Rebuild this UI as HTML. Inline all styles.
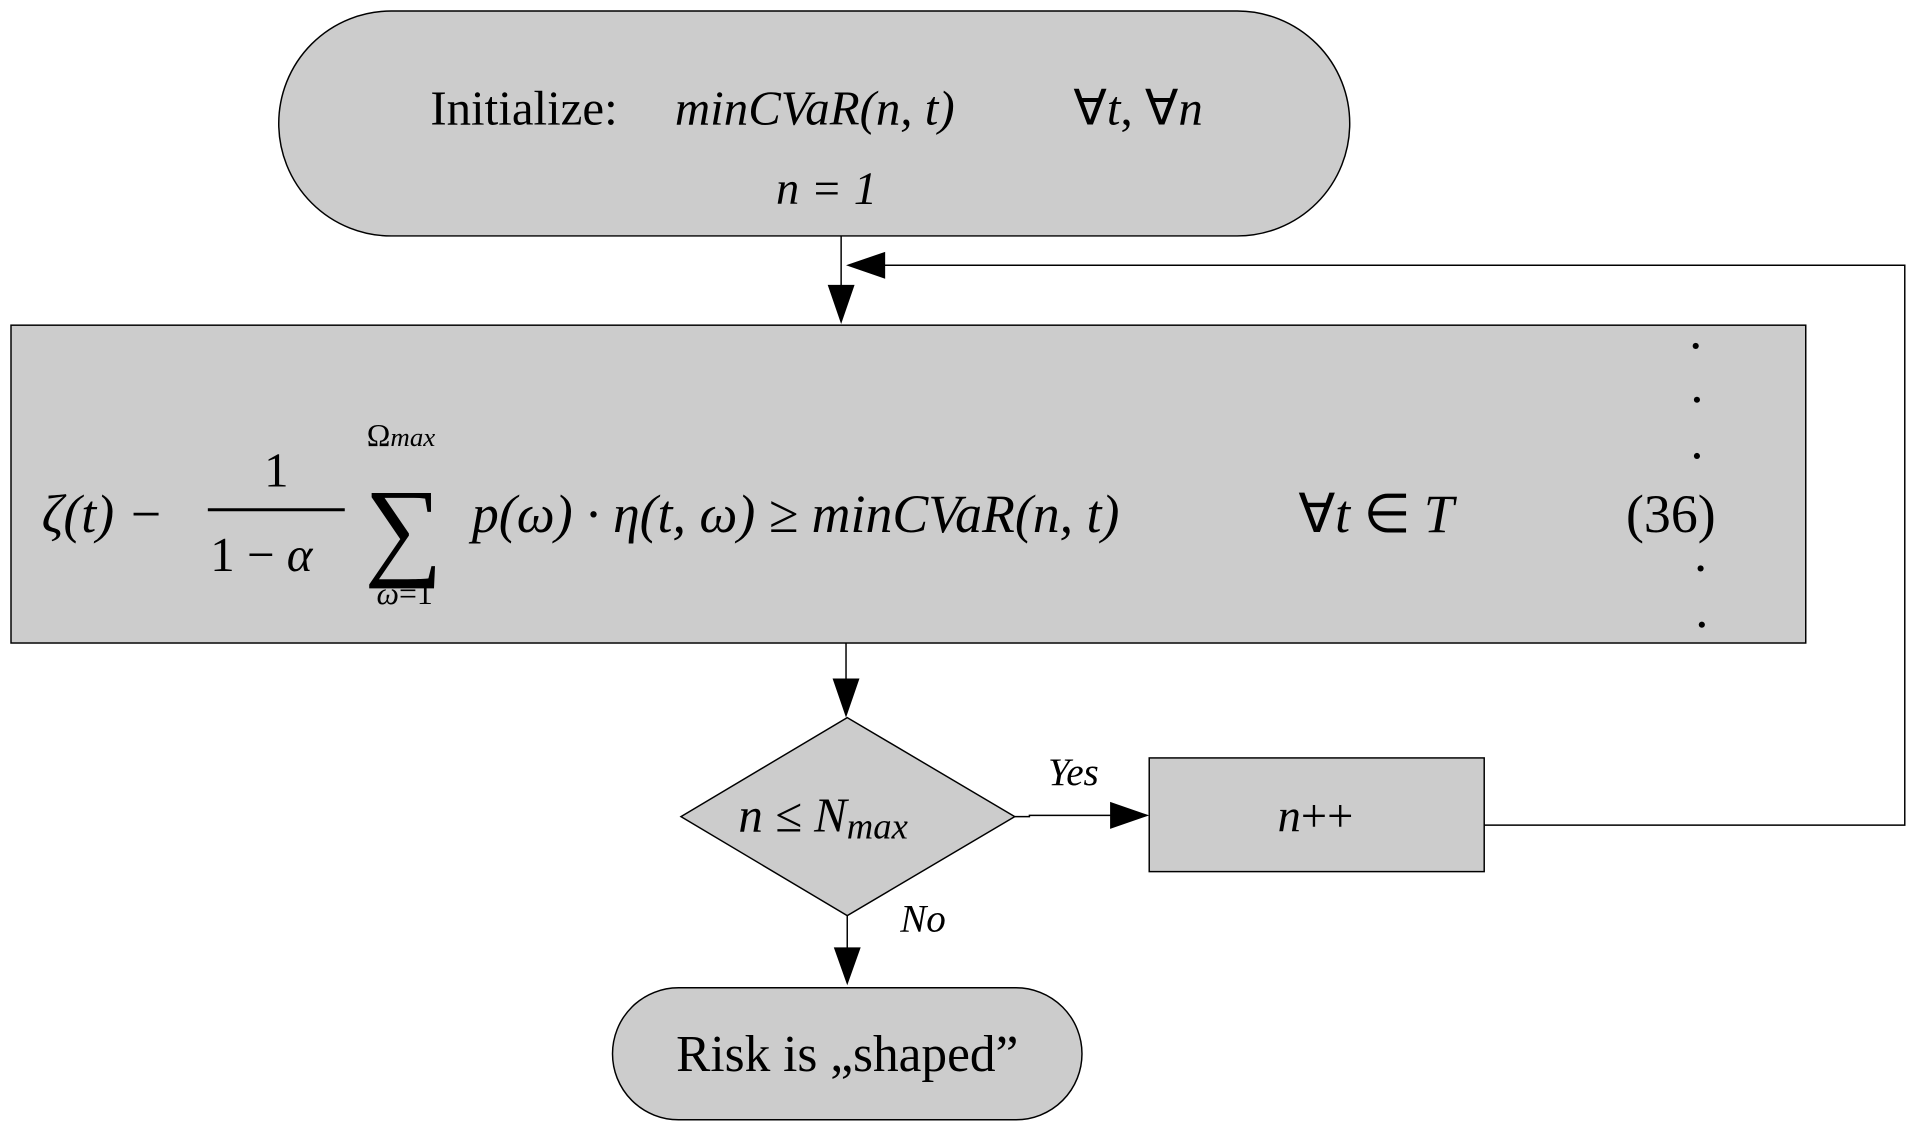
<!DOCTYPE html>
<html><head><meta charset="utf-8"><style>html,body{margin:0;padding:0;background:#fff}svg{display:block}</style></head>
<body>
<svg width="1917" height="1132" viewBox="0 0 1568 926" preserveAspectRatio="none" xmlns="http://www.w3.org/2000/svg" font-family="Liberation Serif, serif">
<rect x="0" y="0" width="1568" height="926" fill="#fff"/>
<rect x="228" y="9" width="876" height="184" rx="92" ry="92" fill="#cccccc" stroke="#000" stroke-width="1.2"/>
<text x="352" y="102" font-size="40">Initialize:</text>
<text x="552" y="102" font-size="40" font-style="italic">minCVaR(n, t)</text>
<text x="878" y="102" font-size="40">∀<tspan font-style="italic">t</tspan>, ∀<tspan font-style="italic">n</tspan></text>
<text x="676" y="167" font-size="38" font-style="italic" text-anchor="middle">n = 1</text>
<line x1="688" y1="193" x2="688" y2="234" stroke="#000" stroke-width="1.2"/>
<polygon points="677,233 699,233 688,265" fill="#000"/>
<polyline points="1214,675 1558,675 1558,217 722,217" fill="none" stroke="#000" stroke-width="1.2"/>
<polygon points="692,217 724,206 724,228" fill="#000"/>
<rect x="9" y="266" width="1468" height="260" fill="#cccccc" stroke="#000" stroke-width="1.2"/>
<text x="34" y="435" font-size="44" font-style="italic">ζ(t) −</text>
<text x="226" y="398" font-size="40" text-anchor="middle">1</text>
<line x1="170" y1="417" x2="282" y2="417" stroke="#000" stroke-width="2.5"/>
<text x="172" y="467" font-size="40">1 − <tspan font-style="italic">α</tspan></text>
<text x="328" y="365" font-size="26" text-anchor="middle">Ω<tspan font-style="italic" font-size="22">max</tspan></text>
<text x="330" y="462" font-size="90" text-anchor="middle">∑</text>
<text x="331" y="494" font-size="26" text-anchor="middle"><tspan font-style="italic">ω</tspan>=1</text>
<text x="386" y="435" font-size="44" font-style="italic">p(ω) · η(t, ω) ≥ minCVaR(n, t)</text>
<text x="1062" y="435" font-size="44">∀<tspan font-style="italic">t</tspan> ∈ <tspan font-style="italic">T</tspan></text>
<text x="1330" y="435" font-size="44">(36)</text>
<g fill="#000"><circle cx="1387" cy="283" r="2.5"/><circle cx="1388" cy="327" r="2.5"/><circle cx="1388" cy="373" r="2.5"/><circle cx="1391" cy="465" r="2.5"/><circle cx="1392" cy="511" r="2.5"/></g>
<line x1="692" y1="526" x2="692" y2="556" stroke="#000" stroke-width="1.2"/>
<polygon points="681,555 703,555 692,587" fill="#000"/>
<polygon points="693,587 830,668 693,749 557,668" fill="#cccccc" stroke="#000" stroke-width="1.2"/>
<text x="604" y="680" font-size="40" font-style="italic">n ≤ N<tspan font-size="30" dy="6">max</tspan></text>
<polyline points="830,668 842,668 842,667 910,667" fill="none" stroke="#000" stroke-width="1.2"/>
<polygon points="908,656 940,667 908,678" fill="#000"/>
<text x="878" y="642" font-size="32" font-style="italic" text-anchor="middle">Yes</text>
<rect x="940" y="620" width="274" height="93" fill="#cccccc" stroke="#000" stroke-width="1.2"/>
<text x="1076" y="680" font-size="38" text-anchor="middle"><tspan font-style="italic">n</tspan>++</text>
<line x1="693" y1="749" x2="693" y2="776" stroke="#000" stroke-width="1.2"/>
<polygon points="682,775 704,775 693,806" fill="#000"/>
<text x="755" y="762" font-size="32" font-style="italic" text-anchor="middle">No</text>
<rect x="501" y="808" width="384" height="108" rx="54" ry="54" fill="#cccccc" stroke="#000" stroke-width="1.2"/>
<text x="693" y="876" font-size="42" text-anchor="middle">Risk is „shaped”</text>
</svg>
</body></html>
